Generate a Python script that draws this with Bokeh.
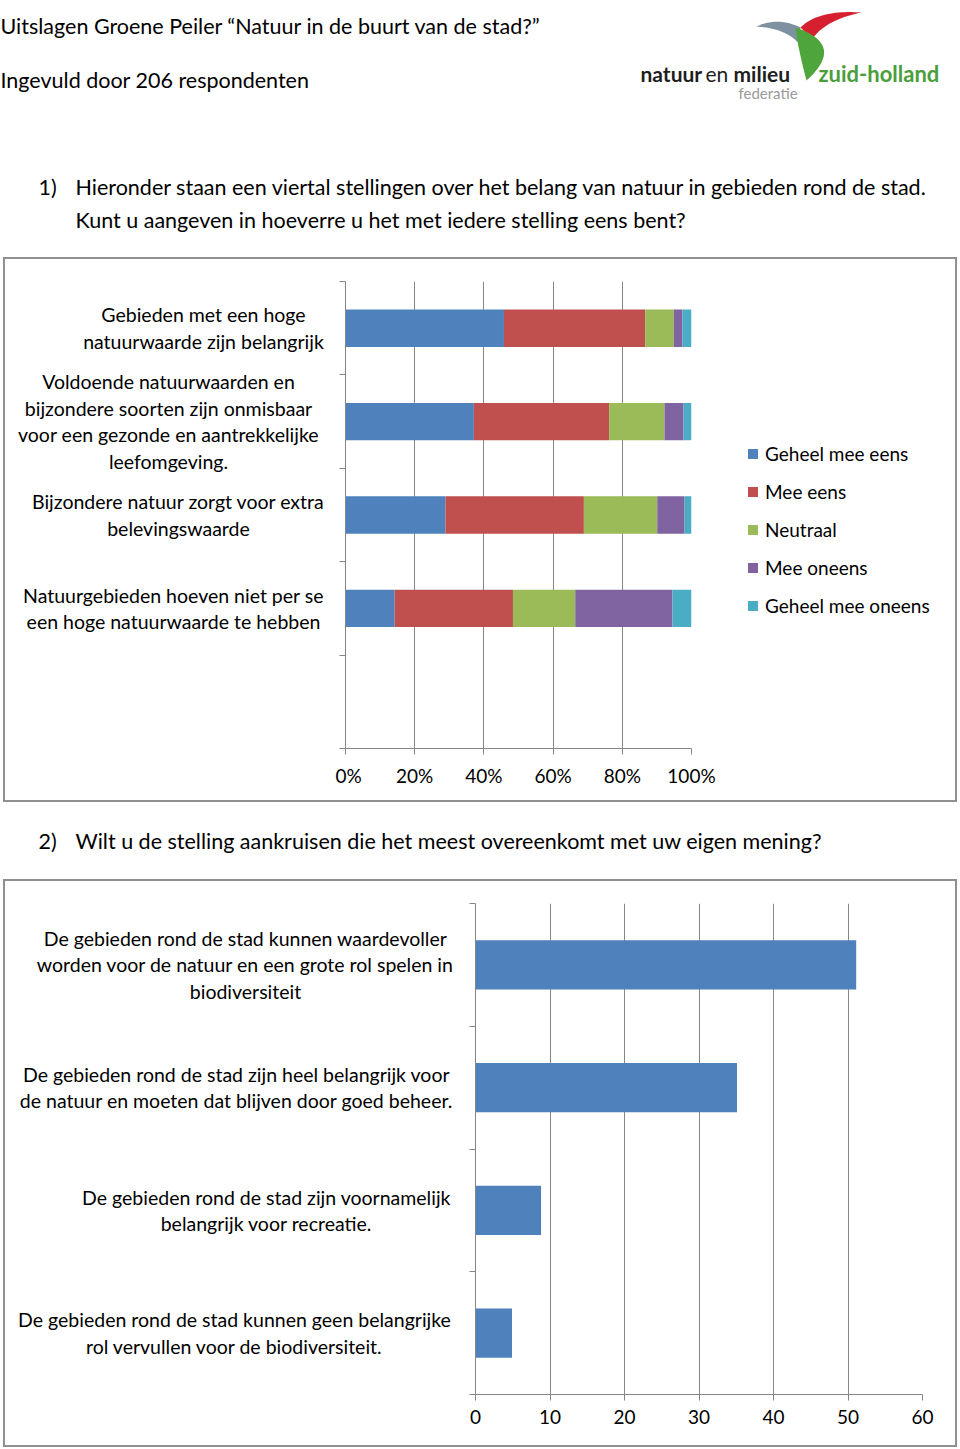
from bokeh.plotting import figure
from bokeh.models import (Range1d, FixedTicker, PrintfTickFormatter, Legend, LegendItem, ColumnDataSource)
from bokeh.layouts import column, row
from bokeh.embed import file_html
from bokeh.resources import INLINE
from bokeh.core.properties import value

# ---------------- data ----------------
title_text = "Uitslagen Groene Peiler \u201cNatuur in de buurt van de stad?\u201d"
subtitle_text = "Ingevuld door 206 respondenten"
q1_number = "1)"
q1_lines = ["Hieronder staan een viertal stellingen over het belang van natuur in gebieden rond de stad.",
            "Kunt u aangeven in hoeverre u het met iedere stelling eens bent?"]
q2_number = "2)"
q2_line = "Wilt u de stelling aankruisen die het meest overeenkomt met uw eigen mening?"

statements_1 = [
    "Gebieden met een hoge\nnatuurwaarde zijn belangrijk",
    "Voldoende natuurwaarden en\nbijzondere soorten zijn onmisbaar\nvoor een gezonde en aantrekkelijke\nleefomgeving.",
    "Bijzondere natuur zorgt voor extra\nbelevingswaarde",
    "Natuurgebieden hoeven niet per se\neen hoge natuurwaarde te hebben",
]
answers_1 = ["Geheel mee eens", "Mee eens", "Neutraal", "Mee oneens", "Geheel mee oneens"]
geheel_mee_eens = [45.8, 37.1, 28.9, 14.2]
mee_eens = [40.8, 39.1, 40.0, 34.2]
neutraal = [8.3, 16.0, 21.2, 18.0]
mee_oneens = [2.5, 5.5, 7.9, 28.1]
geheel_mee_oneens = [2.6, 2.3, 2.0, 5.5]
ticks_1 = [0, 20, 40, 60, 80, 100]

statements_2 = [
    "De gebieden rond de stad kunnen waardevoller\nworden voor de natuur en een grote rol spelen in\nbiodiversiteit",
    "De gebieden rond de stad zijn heel belangrijk voor\nde natuur en moeten dat blijven door goed beheer.",
    "De gebieden rond de stad zijn voornamelijk\nbelangrijk voor recreatie.",
    "De gebieden rond de stad kunnen geen belangrijke\nrol vervullen voor de biodiversiteit.",
]
values_2 = [51.1, 35.1, 8.8, 4.9]
ticks_2 = [0, 10, 20, 30, 40, 50, 60]

# ---------------- style ----------------
FONT = "Lato"
TEXT = "#000000"
AXIS = "#868686"
BOX_CSS = {"border": "2px solid #8f8f8f"}
COLORS = ["#4F81BD", "#C0504D", "#9BBB59", "#8064A2", "#4BACC6"]
W = 960
BIG = "21.5px"
SMALL = "19px"
LABEL = "19.5px"
LABEL_LH = 1.15


def canvas(width, height, x0, y_top, y_range=None):
    p = figure(width=width, height=height, x_range=Range1d(x0, x0 + width),
               y_range=y_range if y_range is not None else Range1d(y_top + height, y_top),
               output_backend="svg", toolbar_location=None, min_border=0, frame_align=False,
               x_axis_location=None, y_axis_location=None, outline_line_color=None)
    p.grid.visible = False
    return p


def put(p, x, y, t, size=BIG, color=TEXT, style="normal", align="left", baseline="middle", lh=1.2):
    p.text(x=[x], y=[y], text=[t], text_font=value(FONT), text_font_size=size, text_color=color,
           text_font_style=style, text_align=align, text_baseline=baseline, text_line_height=lh)


def qbez(p0, c, p1, n=24):
    pts = []
    for i in range(n + 1):
        t = i / n
        x = (1 - t) ** 2 * p0[0] + 2 * (1 - t) * t * c[0] + t ** 2 * p1[0]
        y = (1 - t) ** 2 * p0[1] + 2 * (1 - t) * t * c[1] + t ** 2 * p1[1]
        pts.append((x, y))
    return pts


def shape(*curves):
    pts = []
    for cv in curves:
        pts += qbez(*cv)
    return [q[0] for q in pts], [q[1] for q in pts]


def style_axes(p, n_slots):
    p.ygrid.visible = False
    p.xgrid.grid_line_color = AXIS
    p.xgrid.grid_line_width = 1
    p.yaxis.ticker = FixedTicker(ticks=list(range(n_slots + 1)))
    for ax in p.xaxis + p.yaxis:
        ax.axis_line_color = AXIS
        ax.major_tick_line_color = AXIS
        ax.minor_tick_line_color = None
        ax.major_tick_in = 0
        ax.major_tick_out = 6
    for ax in p.xaxis:
        ax.major_label_text_font = FONT
        ax.major_label_text_font_size = SMALL
        ax.major_label_text_color = TEXT
        ax.major_label_standoff = 9
    for ax in p.yaxis:
        ax.major_label_overrides = {t: "" for t in range(n_slots + 1)}
        ax.major_label_standoff = 0


# ---------------- header ----------------
head = canvas(W, 257, 0, 0)
put(head, 0, 25, title_text)
put(head, 0, 79, subtitle_text)
put(head, 38, 186, q1_number)
put(head, 75, 186, q1_lines[0])
put(head, 75, 219, q1_lines[1])

# logo
gx, gy = shape(((756, 26), (777, 16), (800, 27)), ((800, 45), (787, 28), (756, 26)))
rx, ry = shape(((800, 27), (818, 9), (861, 12)), ((861, 12), (826, 19), (812, 38)), ((812, 38), (806, 33), (800, 27)))
nx, ny = shape(((795, 27), (846, 44), (806, 80)), ((806, 80), (797, 46), (795, 27)))
head.patches(xs=[gx, rx, nx], ys=[gy, ry, ny], fill_color=["#7d91a0", "#d6202f", "#4ea53b"], line_color=None)
put(head, 640, 73, "natuur", size="21px", color="#1e1e1e", style="bold")
put(head, 705, 73, "en", size="21px", color="#1e1e1e")
put(head, 733, 73, "milieu", size="21px", color="#1e1e1e", style="bold")
put(head, 818, 73, "zuid-holland", size="22px", color="#4a9e3b", style="bold")
put(head, 738, 92, "federatie", size="15px", color="#9a9a9a")

# ---------------- chart 1 ----------------
H1, TOP1, BOT1 = 541, 22, 52          # content height, space above / below the plot area
n1 = len(statements_1) + 1            # Excel leaves one empty slot at the bottom
c1 = figure(width=386, height=H1, x_range=Range1d(0, 100), y_range=Range1d(n1, 0),
            output_backend="svg", toolbar_location=None, frame_align=False,
            min_border_left=10, min_border_right=30, min_border_top=TOP1, min_border_bottom=BOT1,
            outline_line_color=None)
src1 = ColumnDataSource(dict(y=[i + 0.5 for i in range(len(statements_1))],
                             a=geheel_mee_eens, b=mee_eens, c=neutraal, d=mee_oneens, e=geheel_mee_oneens))
c1.hbar_stack(["a", "b", "c", "d", "e"], y="y", height=0.4, source=src1,
              fill_color=COLORS, line_color=None)
c1.xaxis.ticker = FixedTicker(ticks=ticks_1)
c1.xaxis.formatter = PrintfTickFormatter(format="%d%%")
style_axes(c1, n1)

k1 = n1 / (H1 - TOP1 - BOT1)
lab1 = canvas(330, H1, 5, 0, y_range=Range1d(n1 + BOT1 * k1, -TOP1 * k1))
label_x_1 = [203, 168, 178, 173]
for i, t in enumerate(statements_1):
    put(lab1, label_x_1[i], i + 0.5, t, size=LABEL, align="center", lh=LABEL_LH)

leg1 = figure(width=234, height=H1, x_range=Range1d(0, 1), y_range=Range1d(0, 1),
              output_backend="svg", toolbar_location=None, min_border=0, frame_align=False,
              x_axis_location=None, y_axis_location=None, outline_line_color=None)
leg1.grid.visible = False
items = []
for col, name in zip(COLORS, answers_1):
    r = leg1.scatter(x=[float("nan")], y=[float("nan")], marker="square", size=10,
                     fill_color=col, line_color=None)
    items.append(LegendItem(label=name, renderers=[r]))
leg1.add_layout(Legend(items=items, location=(19, 182), orientation="vertical",
                       glyph_width=25, glyph_height=25, label_height=25, label_standoff=0, spacing=13,
                       padding=0, margin=0, border_line_color=None, background_fill_alpha=0,
                       label_text_font=FONT, label_text_font_size=SMALL, label_text_color=TEXT))

box1 = column(row(lab1, c1, leg1, spacing=0), spacing=0, styles=BOX_CSS, margin=(0, 0, 0, 3))

# ---------------- question 2 ----------------
q2 = canvas(W, 77, 0, 802)
put(q2, 38, 840, q2_number)
put(q2, 75, 840, q2_line)

# ---------------- chart 2 ----------------
H2, TOP2, BOT2 = 564, 22, 51
n2 = len(statements_2)
c2 = figure(width=490, height=H2, x_range=Range1d(0, 60), y_range=Range1d(n2, 0),
            output_backend="svg", toolbar_location=None, frame_align=False,
            min_border_left=10, min_border_right=33, min_border_top=TOP2, min_border_bottom=BOT2,
            outline_line_color=None)
c2.hbar(y=[i + 0.5 for i in range(n2)], left=0, right=values_2, height=0.4,
        fill_color=COLORS[0], line_color=None)
c2.xaxis.ticker = FixedTicker(ticks=ticks_2)
style_axes(c2, n2)

k2 = n2 / (H2 - TOP2 - BOT2)
lab2 = canvas(460, H2, 5, 0, y_range=Range1d(n2 + BOT2 * k2, -TOP2 * k2))
label_x_2 = [245, 236, 266, 234]
for i, t in enumerate(statements_2):
    put(lab2, label_x_2[i], i + 0.5, t, size=LABEL, align="center", lh=LABEL_LH)

box2 = column(row(lab2, c2, spacing=0), spacing=0, styles=BOX_CSS, margin=(0, 0, 0, 3))

page = column(head, box1, q2, box2, spacing=0)
open("out.html", "w").write(file_html(page, INLINE))
